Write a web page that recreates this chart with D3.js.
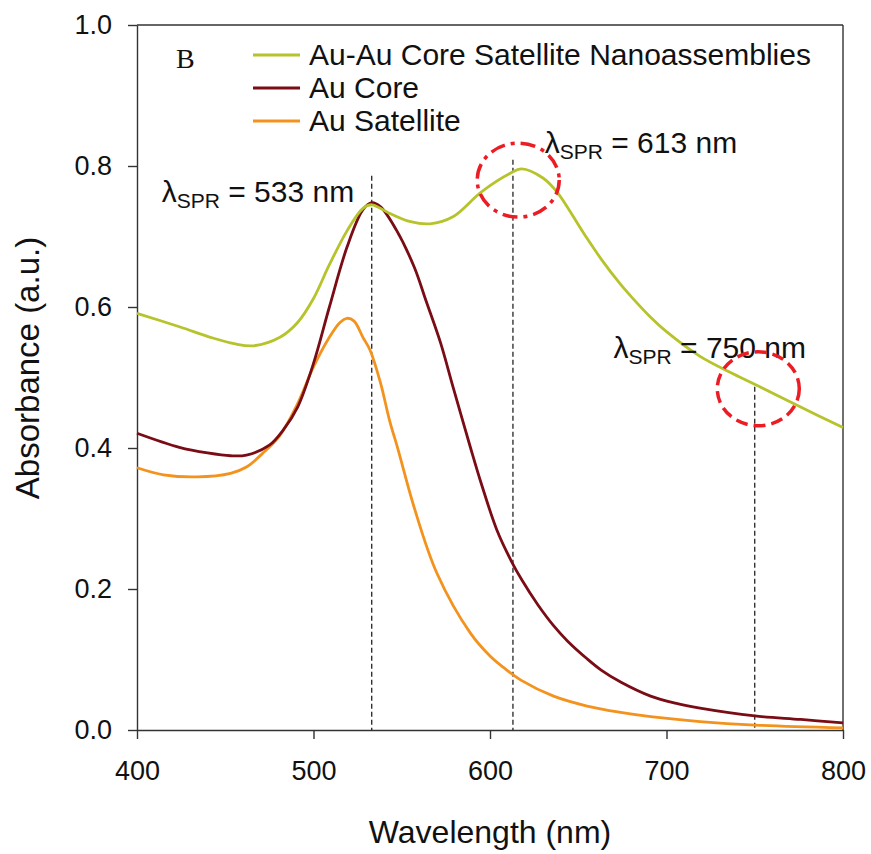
<!DOCTYPE html>
<html>
<head>
<meta charset="utf-8">
<script src="https://cdn.jsdelivr.net/npm/d3@7"></script>
<style>
  body { margin: 0; background: #fff; }
  text { font-family: "Liberation Sans", Arial, sans-serif; fill: #111; }
</style>
</head>
<body>
<svg id="chart" width="871" height="854"></svg>
<script>
// UV-Vis absorbance spectra (wavelength in nm, absorbance in a.u.)
const assemblyWl  = [400, 424, 443, 455, 466, 481, 491, 500, 509, 519, 528, 533, 543, 555, 566, 579, 595, 611, 618, 630, 638, 653, 663, 674, 681, 690, 700, 719, 738, 752, 776, 800];
const assemblyAbs = [0.591, 0.572, 0.556, 0.548, 0.545, 0.557, 0.578, 0.612, 0.660, 0.708, 0.740, 0.745, 0.733, 0.721, 0.718, 0.728, 0.763, 0.789, 0.796, 0.783, 0.763, 0.705, 0.668, 0.632, 0.612, 0.588, 0.565, 0.530, 0.505, 0.488, 0.458, 0.429];

const coreWl  = [400, 424, 440, 453, 462, 475, 483, 491, 500, 509, 519, 528, 533, 538, 547, 557, 564, 572, 579, 589, 595, 604, 612, 618, 627, 636, 644, 655, 663, 674, 691, 705, 719, 750, 776, 800];
const coreAbs = [0.421, 0.401, 0.393, 0.389, 0.390, 0.404, 0.426, 0.458, 0.520, 0.600, 0.685, 0.738, 0.748, 0.742, 0.709, 0.657, 0.607, 0.549, 0.487, 0.400, 0.350, 0.283, 0.240, 0.213, 0.178, 0.148, 0.126, 0.101, 0.085, 0.068, 0.048, 0.038, 0.031, 0.020, 0.015, 0.010];

const satelliteWl  = [400, 415, 434, 453, 462, 471, 481, 491, 500, 509, 515, 519, 523, 528, 532, 538, 543, 548, 557, 570, 589, 600, 608, 618, 636, 655, 674, 691, 719, 750, 800];
const satelliteAbs = [0.372, 0.362, 0.359, 0.364, 0.373, 0.392, 0.418, 0.463, 0.515, 0.557, 0.578, 0.584, 0.580, 0.557, 0.539, 0.492, 0.440, 0.397, 0.316, 0.222, 0.137, 0.105, 0.088, 0.070, 0.048, 0.034, 0.025, 0.019, 0.012, 0.007, 0.003];

const seriesNames  = ["Au-Au Core Satellite Nanoassemblies", "Au Core", "Au Satellite"];
const seriesColors = ["#b6c32b", "#7a0c16", "#f3931e"];

const xTicks = [400, 500, 600, 700, 800];
const yTicks = [0.0, 0.2, 0.4, 0.6, 0.8, 1.0];

// Surface plasmon resonance markers: wavelength, top of dashed guide (a.u.)
const sprWl  = [533, 613, 750];
const sprTop = [0.786, 0.809, 0.487];
// Label anchor for each marker (nm, a.u. of baseline)
const sprLabelX = [414, 631, 670];
const sprLabelY = [0.749, 0.818, 0.528];
// Highlight ellipses (centre nm, centre a.u.)
const ringX = [616, 752];
const ringY = [0.780, 0.484];

const svg = d3.select("#chart");
const x = d3.scaleLinear().domain([400, 800]).range([137, 843]);
const y = d3.scaleLinear().domain([0, 1]).range([730, 25]);

// axes
const xAxis = svg.append("g").attr("transform", `translate(0,${y(0)})`)
  .call(d3.axisBottom(x).tickValues(xTicks).tickSize(9).tickSizeOuter(0).tickPadding(22));
const yAxis = svg.append("g").attr("transform", `translate(${x(400)},0)`)
  .call(d3.axisLeft(y).tickValues(yTicks).tickSize(9).tickSizeOuter(0).tickPadding(16).tickFormat(d3.format(".1f")));
[xAxis, yAxis].forEach(g => {
  g.selectAll("path, line").attr("stroke", "#333").attr("stroke-width", 1.4);
  g.selectAll("text").attr("font-size", 27).attr("fill", "#111")
    .style("font-family", '"Liberation Sans", Arial, sans-serif');
});

// frame top and right
svg.append("line").attr("x1", x(400)).attr("x2", x(800)).attr("y1", y(1)).attr("y2", y(1))
  .attr("stroke", "#333").attr("stroke-width", 1.4);
svg.append("line").attr("x1", x(800)).attr("x2", x(800)).attr("y1", y(1)).attr("y2", y(0))
  .attr("stroke", "#333").attr("stroke-width", 1.4);

// axis titles
svg.append("text").attr("x", (x(400) + x(800)) / 2).attr("y", 843)
  .attr("text-anchor", "middle").attr("font-size", 32).text("Wavelength (nm)");
svg.append("text").attr("transform", `translate(39,${368}) rotate(-90)`)
  .attr("text-anchor", "middle").attr("font-size", 33).text("Absorbance (a.u.)");

// dashed SPR guides
svg.append("g").selectAll("line").data(sprWl).join("line")
  .attr("x1", d => x(d)).attr("x2", d => x(d))
  .attr("y1", (d, i) => y(sprTop[i])).attr("y2", y(0))
  .attr("stroke", "#111").attr("stroke-width", 1.2).attr("stroke-dasharray", "5,3");

// spectra
const line = d3.line().curve(d3.curveCatmullRom.alpha(0.5)).x(d => x(d[0])).y(d => y(d[1]));
const spectra = [
  d3.zip(assemblyWl, assemblyAbs),
  d3.zip(coreWl, coreAbs),
  d3.zip(satelliteWl, satelliteAbs)
];
// draw back-to-front so the assembly trace sits on top at the 533 nm crossing
[2, 1, 0].forEach(i => {
  svg.append("path").datum(spectra[i]).attr("d", line)
    .attr("fill", "none").attr("stroke", seriesColors[i]).attr("stroke-width", 2.8)
    .attr("stroke-linejoin", "round");
});

// SPR labels
const labels = svg.append("g");
sprWl.forEach((w, i) => {
  const t = labels.append("text").attr("x", x(sprLabelX[i])).attr("y", y(sprLabelY[i])).attr("font-size", 30);
  t.append("tspan").text("λ");
  t.append("tspan").attr("font-size", 21).attr("dy", 6).text("SPR");
  t.append("tspan").attr("dy", -6).text(" = " + w + " nm");
});

// red highlight rings
svg.append("g").selectAll("ellipse").data(ringX).join("ellipse")
  .attr("cx", d => x(d)).attr("cy", (d, i) => y(ringY[i]))
  .attr("rx", 41).attr("ry", 37)
  .attr("fill", "none").attr("stroke", "#ec1c24").attr("stroke-width", 3.5)
  .attr("stroke-dasharray", (d, i) => i === 0 ? "15,6,4,6" : "12,6");

// panel letter
svg.append("text").attr("x", 176).attr("y", 68).attr("font-size", 28)
  .style("font-family", '"Liberation Serif", "Times New Roman", serif').text("B");

// legend
const legend = svg.append("g");
seriesNames.forEach((name, i) => {
  const ly = 55 + i * 33;
  legend.append("line").attr("x1", 253).attr("x2", 300).attr("y1", ly).attr("y2", ly)
    .attr("stroke", seriesColors[i]).attr("stroke-width", 2.8);
  legend.append("text").attr("x", 309).attr("y", ly + 10).attr("font-size", 30).text(name);
});
</script>
</body>
</html>
